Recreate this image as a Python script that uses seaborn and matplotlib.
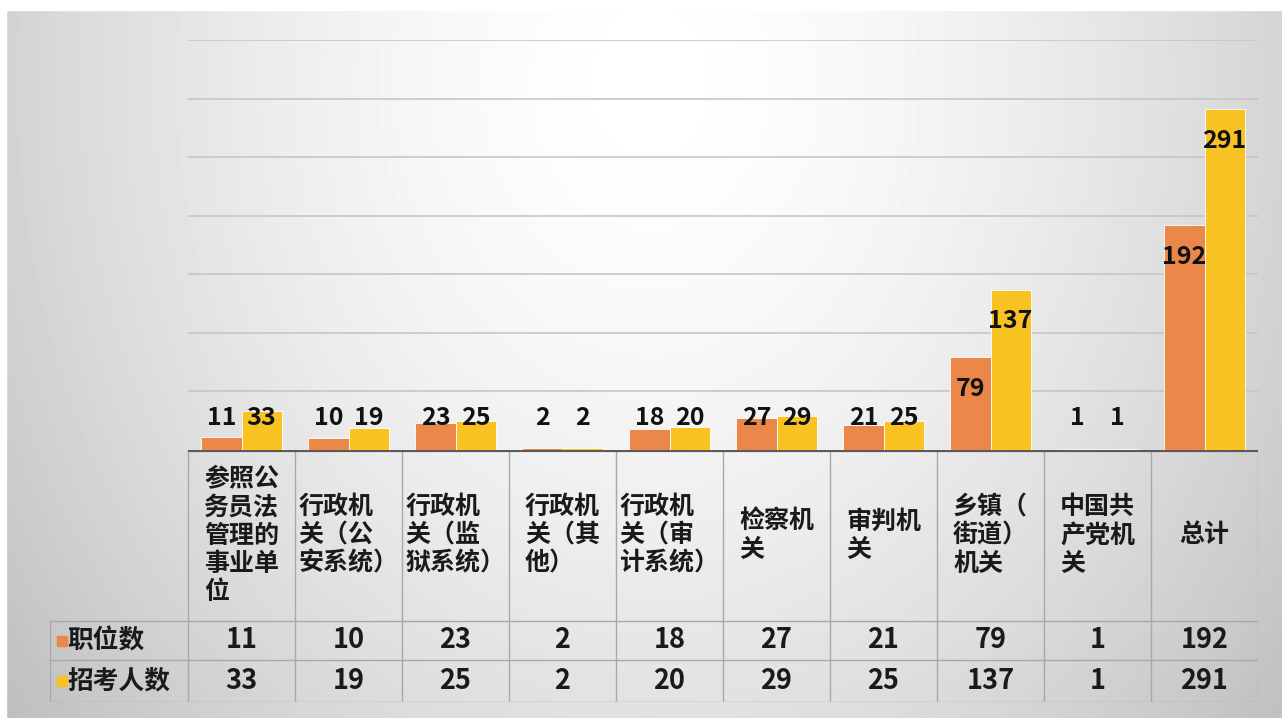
import numpy as np
import pandas as pd
import matplotlib
matplotlib.use("Agg")
import matplotlib.pyplot as plt
import seaborn as sns

# data
categories = ["参照公务员法管理的事业单位", "行政机关（公安系统）", "行政机关（监狱系统）",
              "行政机关（其他）", "行政机关（审计系统）", "检察机关", "审判机关",
              "乡镇（街道）机关", "中国共产党机关", "总计"]
header_text = ["参照公\n务员法\n管理的\n事业单\n位", "行政机\n关（公\n安系统）", "行政机\n关（监\n狱系统）",
               "行政机\n关（其\n他）", "行政机\n关（审\n计系统）", "检察机\n关", "审判机\n关",
               "乡镇（\n街道）\n机关", "中国共\n产党机\n关", "总计"]
series_names = ["职位数", "招考人数"]
jobs = [11, 10, 23, 2, 18, 27, 21, 79, 1, 192]
applicants = [33, 19, 25, 2, 20, 29, 25, 137, 1, 291]

orange = "#EB8849"
yellow = "#F8C322"

sns.set_theme(style="white")
plt.rcParams["font.family"] = ["Noto Sans CJK SC", "DejaVu Sans"]

W, H = 1282, 718
fig = plt.figure(figsize=(W / 100, H / 100), dpi=100)

# background: light radial gradient, white near the top middle
bg = fig.add_axes([0, 0, 1, 1], zorder=-10)
gx, gy = np.meshgrid(np.linspace(0, W, 320), np.linspace(0, H, 180))
r = np.sqrt(((gx - 650) / 640) ** 2 + ((gy - 80) / 800) ** 2)
grad = np.clip(1 - 0.17 * r ** 1.6, 0, 1)
bg.imshow(grad, cmap="gray", vmin=0, vmax=1, aspect="auto", extent=[0, W, H, 0])
bg.fill_between([0, W], 0, 10, color="white")
bg.fill_between([0, 6], 0, H, color="white")
bg.set_xlim(0, W)
bg.set_ylim(H, 0)
bg.axis("off")

# bar chart
left, right, top, base, bottom = 188, 1258, 40, 450, 702
ax = fig.add_axes([left / W, (H - base) / H, (right - left) / W, (base - top) / H])
ax.set_facecolor("none")

df = pd.DataFrame({
    "cat": categories * 2,
    "series": [series_names[0]] * len(categories) + [series_names[1]] * len(categories),
    "value": jobs + applicants,
})
sns.barplot(data=df, x="cat", y="value", hue="series", order=categories,
            hue_order=series_names, palette=[orange, yellow], width=0.75,
            saturation=1, edgecolor="white", linewidth=0.6, legend=False, ax=ax)

ax.set_xlim(-0.5, len(categories) - 0.5)
ax.set_ylim(0, 350)
ax.set_yticks(range(50, 351, 50))
ax.yaxis.grid(True, color="#c6c6c6", linewidth=1.2)
ax.set_axisbelow(True)
for s in ax.spines.values():
    s.set_visible(False)
ax.set_xticks([])
ax.tick_params(left=False, labelleft=False)
ax.set_xlabel("")
ax.set_ylabel("")

for cont, vals in zip(ax.containers, [jobs, applicants]):
    for bar, v in zip(cont, vals):
        xc = bar.get_x() + bar.get_width() / 2
        ax.text(xc, max(v - 27, 27), str(v), ha="center", va="center",
                fontsize=18, fontweight="bold", color="#111111")

# data table under the chart
n = len(categories)
unit = (right - left) / n
leg_w = (left - 50) / unit
tab = fig.add_axes([50 / W, (H - bottom) / H, (right - 50) / W, (bottom - base) / H])
tab.set_facecolor("none")
tab.set_xlim(-0.5 - leg_w, n - 0.5)
tab.set_ylim(bottom - base, 0)
tab.axis("off")

r1, r2, r3 = 171, 210, bottom - base
lc = "#a8a8a8"
for i in range(n + 1):
    tab.plot([i - 0.5, i - 0.5], [0, r3], color=lc, lw=1)
for yy in [r1, r2, r3]:
    tab.plot([-0.5 - leg_w, n - 0.5], [yy, yy], color=lc, lw=1)
tab.plot([-0.5 - leg_w, -0.5 - leg_w], [r1, r3], color=lc, lw=1)
tab.plot([-0.5, n - 0.5], [0, 0], color="#5a5a5a", lw=3, solid_capstyle="butt")

for i, t in enumerate(header_text):
    tab.text(i, r1 / 2, t, ha="center", va="center", multialignment="left",
             fontsize=18, fontweight="bold", color="#1a1a1a", linespacing=1.22)

for row_vals, (ya, yb), name, col in [(jobs, (r1, r2), series_names[0], orange),
                                      (applicants, (r2, r3), series_names[1], yellow)]:
    ym = (ya + yb) / 2
    for i, v in enumerate(row_vals):
        tab.text(i, ym, str(v), ha="center", va="center", fontsize=19.5,
                 fontweight="bold", color="#1a1a1a")
    tab.plot([-0.5 - leg_w + 0.11], [ym], marker="s", markersize=6.5, color=col, linestyle="none")
    tab.text(-0.5 - leg_w + 0.16, ym, name, ha="left", va="center", fontsize=18.5,
             fontweight="bold", color="#1a1a1a")

fig.savefig("out.png", dpi=100)
